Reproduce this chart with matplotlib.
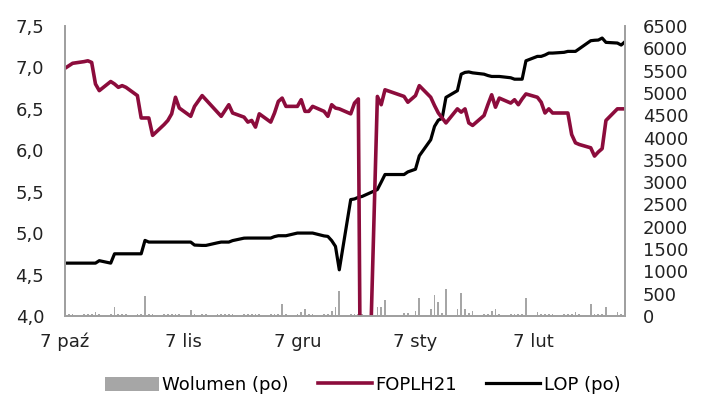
import numpy as np
import pandas as pd
import matplotlib
matplotlib.use("Agg")
import matplotlib.pyplot as plt
from matplotlib.ticker import FuncFormatter

# sesje od 7 paz 2020 do 3 mar 2021 (bez swiat)
dates = pd.bdate_range("2020-10-07", "2021-03-03")
dates = dates.drop(pd.to_datetime(["2020-11-11", "2020-12-25", "2020-12-31",
                                   "2021-01-01", "2021-01-06"]))

foplh21 = [
    # paz
    6.99, 7.02, 7.05, 7.07, 7.08, 7.06, 6.80, 6.72, 6.83, 6.80, 6.76, 6.78, 6.76, 6.66, 6.39, 6.39, 6.39, 6.18,
    # lis
    6.31, 6.36, 6.44, 6.64, 6.51, 6.41, 6.53, 6.66, 6.61, 6.46, 6.41, 6.48, 6.55, 6.45, 6.40, 6.34, 6.36, 6.28, 6.44, 6.34,
    # gru
    6.45, 6.59, 6.63, 6.53, 6.53, 6.61, 6.47, 6.47, 6.53, 6.47, 6.41, 6.55, 6.51, 6.50, 6.44, 6.57, 6.62, 0.0, 6.65, 6.55, 6.73,
    # sty
    6.65, 6.58, 6.66, 6.78, 6.64, 6.54, 6.45, 6.39, 6.33, 6.50, 6.46, 6.50, 6.33, 6.30, 6.42, 6.55, 6.67, 6.52, 6.63,
    # lut
    6.57, 6.61, 6.55, 6.62, 6.68, 6.64, 6.58, 6.45, 6.50, 6.45, 6.45, 6.45, 6.19, 6.09, 6.07, 6.03, 5.93, 5.98, 6.02, 6.36,
    # mar
    6.50, 6.50, 6.50,
]

lop = [
    1185, 1185, 1185, 1185, 1185, 1185, 1185, 1240, 1185, 1394, 1394, 1394, 1394, 1394, 1394, 1694, 1657, 1657,
    1657, 1657, 1657, 1657, 1657, 1657, 1590, 1582, 1582, 1640, 1657, 1657, 1657, 1690, 1745, 1747, 1747, 1747, 1747, 1747,
    1780, 1799, 1799, 1799, 1859, 1859, 1859, 1859, 1859, 1795, 1784, 1690, 1560, 1035, 2609, 2624, 2661, 2680, 2834, 3000, 3171,
    3171, 3230, 3290, 3590, 3950, 4250, 4390, 4430, 4900, 5050, 5420, 5460, 5470, 5450, 5420, 5390, 5369, 5369, 5369,
    5340, 5308, 5308, 5308, 5720, 5819, 5819, 5850, 5893, 5893, 5910, 5931, 5931, 5931, 5990, 6170, 6180, 6185, 6230, 6133,
    6118, 6073, 6148,
]

wolumen = [
    40, 40, 40, 40, 40, 40, 90, 40, 40, 200, 40, 40, 40, 40, 40, 450, 40, 40,
    40, 40, 40, 40, 40, 135, 40, 40, 40, 40, 40, 40, 40, 40, 40, 40, 40, 40, 40, 40,
    40, 40, 260, 40, 40, 100, 150, 40, 40, 40, 40, 110, 210, 570, 50, 50, 40, 50, 210, 210, 360,
    60, 60, 110, 410, 165, 465, 315, 60, 615, 165, 510, 165, 75, 105, 45, 45, 110, 150, 45,
    45, 45, 45, 45, 410, 100, 45, 45, 45, 45, 45, 45, 45, 90, 45, 260, 45, 45, 45, 210,
    100, 45, 45,
]

tick_dates = pd.to_datetime(["2020-10-07", "2020-11-07", "2020-12-07", "2021-01-07", "2021-02-07"])
tick_labels = ["7 paź", "7 lis", "7 gru", "7 sty", "7 lut"]

red = "#8C0C3C"
grey = "#A6A6A6"
axis_grey = "#A0A0A0"

plt.rcParams["font.family"] = ["DejaVu Sans"]

fig = plt.figure(figsize=(7.08, 4.01), dpi=100)
ax = fig.add_axes([65 / 708, 85 / 401, 560 / 708, 290 / 401])
ax2 = ax.twinx()

ax2.bar(dates, wolumen, width=0.45, color=grey, label="Wolumen (po)")
ax.plot(dates, foplh21, color=red, lw=2.6, label="FOPLH21")
ax2.plot(dates, lop, color="black", lw=2.3, label="LOP (po)")

ax.set_zorder(ax2.get_zorder() + 1)
ax.patch.set_visible(False)

ax.set_xlim(pd.Timestamp("2020-10-07"), pd.Timestamp("2021-03-03"))
ax.set_ylim(4.0, 7.5)
ax.set_yticks(np.arange(4.0, 7.51, 0.5))
ax.yaxis.set_major_formatter(FuncFormatter(lambda v, p: f"{v:.1f}".replace(".", ",")))
ax2.set_ylim(0, 6500)
ax2.set_yticks(np.arange(0, 6501, 500))

ax.set_xticks(tick_dates)
ax.set_xticklabels(tick_labels)

for a in (ax, ax2):
    a.spines["top"].set_visible(False)
    for s in ("left", "right", "bottom"):
        a.spines[s].set_color(axis_grey)
        a.spines[s].set_linewidth(1.3)
    a.tick_params(length=0, labelsize=13, colors="#222222")

ax.tick_params(axis="y", pad=15)
ax2.tick_params(axis="y", pad=13)
ax.tick_params(axis="x", pad=12)

h1, l1 = ax2.get_legend_handles_labels()
h2, l2 = ax.get_legend_handles_labels()
handles = [h1[1], h2[0], h1[0]]
labels = [l1[1], l2[0], l1[0]]
fig.legend(handles, labels, loc="center", bbox_to_anchor=(0.512, 0.04), ncol=3,
           frameon=False, fontsize=13, handlelength=3.0, handletextpad=0.2,
           columnspacing=1.6, handleheight=0.8)

fig.savefig("out.png", dpi=100)
